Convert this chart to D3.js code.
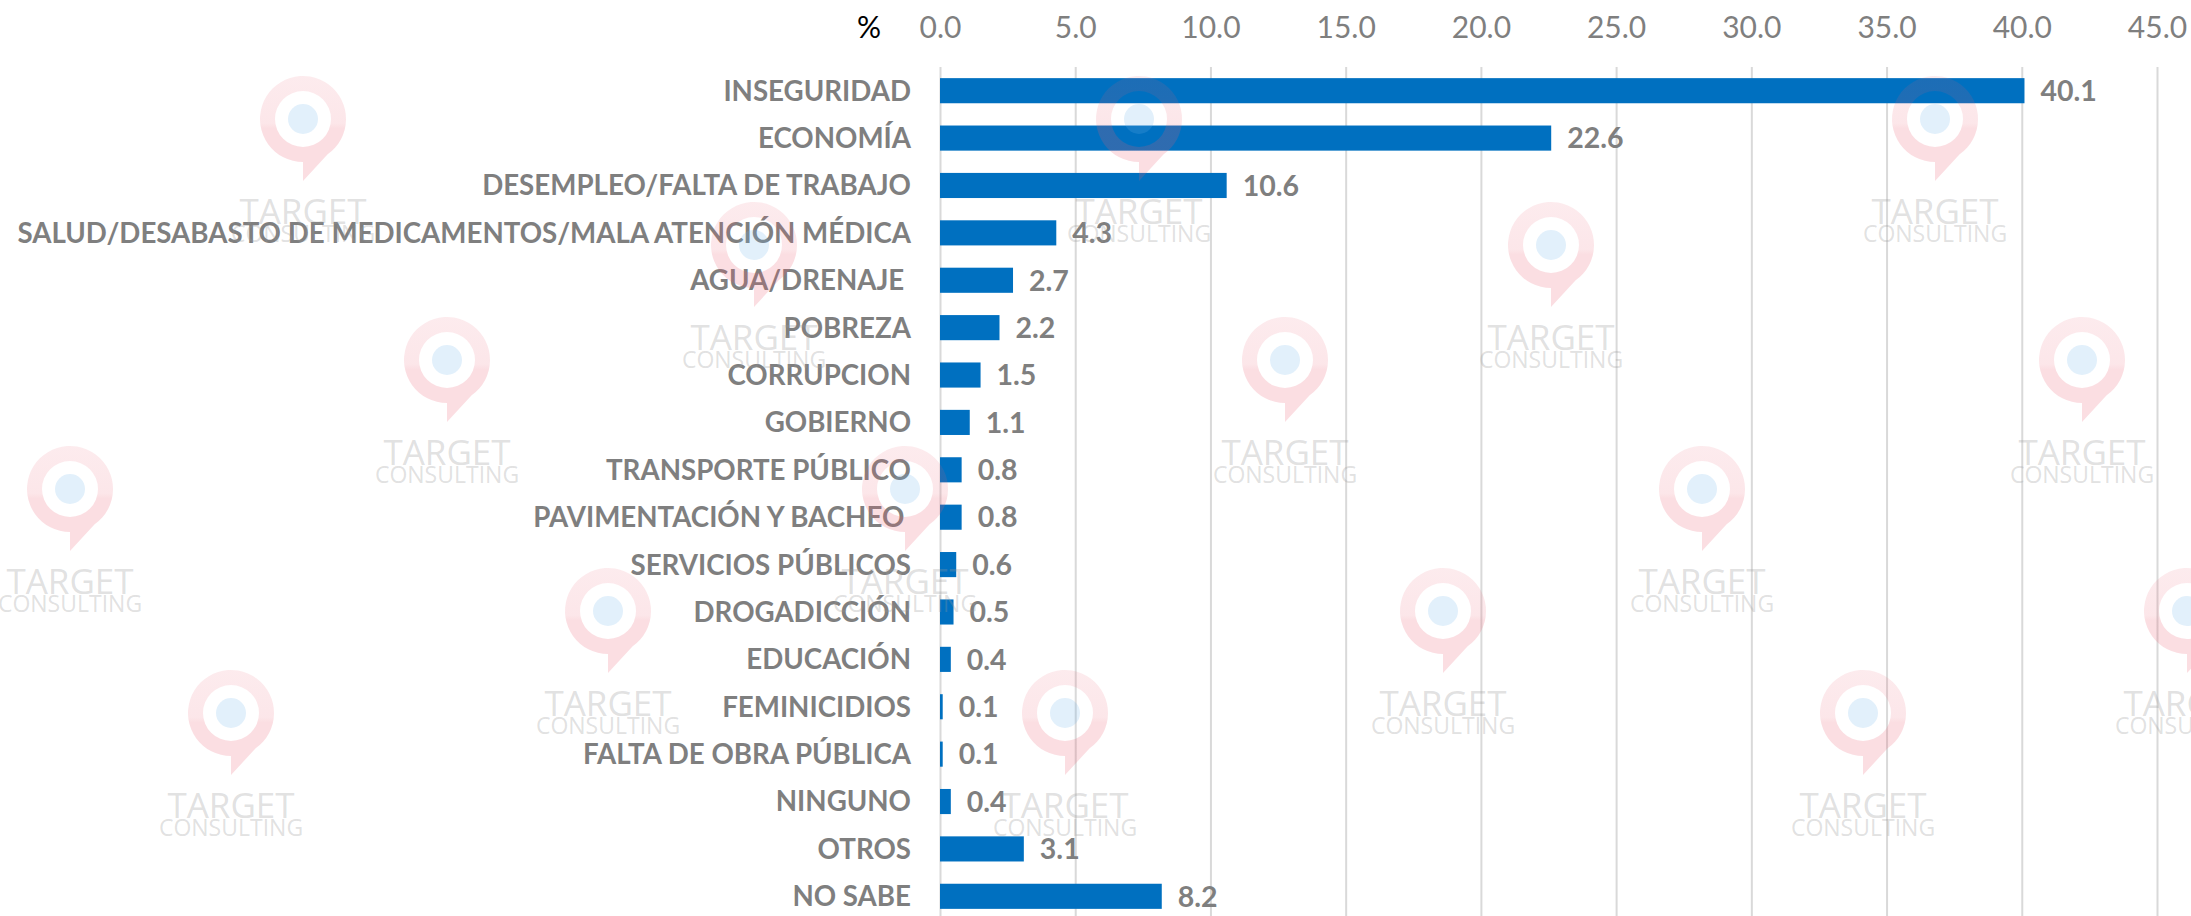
<!DOCTYPE html>
<html>
<head>
<meta charset="utf-8">
<script src="https://cdn.jsdelivr.net/npm/d3@7"></script>
<style>
  html, body { margin: 0; padding: 0; background: #fff; }
  svg { display: block; }
  .cat { white-space: pre; }
</style>
</head>
<body>
<div id="chart"></div>
<script>
// chart data
const categories = [
  "INSEGURIDAD",
  "ECONOMÍA",
  "DESEMPLEO/FALTA DE TRABAJO",
  "SALUD/DESABASTO DE MEDICAMENTOS/MALA ATENCIÓN MÉDICA",
  "AGUA/DRENAJE ",
  "POBREZA",
  "CORRUPCION",
  "GOBIERNO",
  "TRANSPORTE PÚBLICO",
  "PAVIMENTACIÓN Y BACHEO ",
  "SERVICIOS PÚBLICOS",
  "DROGADICCIÓN",
  "EDUCACIÓN",
  "FEMINICIDIOS",
  "FALTA DE OBRA PÚBLICA",
  "NINGUNO",
  "OTROS",
  "NO SABE"
];
const values = [40.1, 22.6, 10.6, 4.3, 2.7, 2.2, 1.5, 1.1, 0.8, 0.8, 0.6, 0.5, 0.4, 0.1, 0.1, 0.4, 3.1, 8.2];
const tickValues = [0, 5, 10, 15, 20, 25, 30, 35, 40, 45];
const unitLabel = "%";

// watermark logo centres (decoration only)
const wmX = [303, 1139, 1935, 754, 1551, 447, 1285, 2082, 70, 905, 1702, 608, 1443, 2187, 231, 1065, 1863];
const wmY = [119, 119, 119, 245, 245, 360, 360, 360, 489, 489, 489, 611, 611, 611, 713, 713, 713];

const width = 2191, height = 916;
const margins = { top: 67, left: 940, right: 34, bottom: 0 };

const svg = d3.select("#chart")
  .append("svg")
  .attr("width", width)
  .attr("height", height)
  .attr("viewBox", [0, 0, width, height]);

const x = d3.scaleLinear()
  .domain([0, 45])
  .range([margins.left, width - margins.right]);

const y = d3.scaleBand()
  .domain(categories)
  .range([margins.top, 920])
  .paddingInner(0.47)
  .paddingOuter(0.235);

// top axis + vertical gridlines
const axis = svg.append("g")
  .attr("class", "x axis")
  .attr("transform", `translate(0,${margins.top})`)
  .call(d3.axisTop(x)
    .tickValues(tickValues)
    .tickFormat(d3.format(".1f"))
    .tickSizeInner(-(height - margins.top))
    .tickSizeOuter(0)
    .tickPadding(29));

axis.select(".domain").remove();
axis.selectAll(".tick line")
  .attr("stroke", "#d9d9d9")
  .attr("stroke-width", 2);
axis.selectAll(".tick text")
  .attr("fill", "#7f7f7f")
  .style("font-family", "Lato, 'Open Sans', sans-serif")
  .style("font-size", "30px");

svg.append("text")
  .attr("x", 869)
  .attr("y", 38)
  .attr("text-anchor", "middle")
  .style("font-family", "Lato, 'Open Sans', sans-serif")
  .style("font-size", "30px")
  .attr("fill", "#000")
  .text(unitLabel);

const data = categories.map((c, i) => ({ cat: c, value: values[i] }));

// bars
svg.append("g")
  .selectAll("rect")
  .data(data)
  .enter()
  .append("rect")
  .attr("x", x(0))
  .attr("y", d => y(d.cat))
  .attr("width", d => x(d.value) - x(0))
  .attr("height", y.bandwidth())
  .attr("fill", "#0070c0");

// category labels
svg.append("g")
  .selectAll("text")
  .data(data)
  .enter()
  .append("text")
  .attr("class", "cat")
  .attr("x", 911)
  .attr("y", d => y(d.cat) + y.bandwidth() / 2)
  .attr("dy", "0.36em")
  .attr("text-anchor", "end")
  .style("font-family", "Lato, 'Open Sans', sans-serif")
  .style("font-weight", "bold")
  .style("font-size", "27.7px")
  .attr("fill", "#7f7f7f")
  .text(d => d.cat);

// value labels
svg.append("g")
  .selectAll("text")
  .data(data)
  .enter()
  .append("text")
  .attr("x", d => x(d.value) + 16)
  .attr("y", d => y(d.cat) + y.bandwidth() / 2)
  .attr("dy", "0.36em")
  .style("font-family", "Lato, 'Open Sans', sans-serif")
  .style("font-weight", "bold")
  .style("font-size", "28.5px")
  .attr("fill", "#7f7f7f")
  .text(d => d3.format(".1f")(d.value));

// watermark overlay
const defs = svg.append("defs");
const grad = defs.append("linearGradient")
  .attr("id", "pinGrad")
  .attr("x1", 0).attr("y1", 0).attr("x2", 0).attr("y2", 1);
grad.append("stop").attr("offset", "0%").attr("stop-color", "#eb5a6e").attr("stop-opacity", 0.12);
grad.append("stop").attr("offset", "45%").attr("stop-color", "#eb5a6e").attr("stop-opacity", 0.15);
grad.append("stop").attr("offset", "50%").attr("stop-color", "#eb5a6e").attr("stop-opacity", 0.2);
grad.append("stop").attr("offset", "100%").attr("stop-color", "#eb5a6e").attr("stop-opacity", 0.2);

const R = 43, r = 28;
const a = 55 * Math.PI / 180;
const pinPath = `M0,62 L0,${R} A${R},${R} 0 1 1 ${R * Math.cos(a)},${R * Math.sin(a)} Z ` +
  `M${r},0 A${r},${r} 0 1 0 ${-r},0 A${r},${r} 0 1 0 ${r},0 Z`;

const wm = svg.append("g")
  .attr("class", "watermark")
  .style("pointer-events", "none")
  .selectAll("g")
  .data(wmX.map((d, i) => [d, wmY[i]]))
  .enter()
  .append("g")
  .attr("transform", d => `translate(${d[0]},${d[1]})`);

wm.append("path")
  .attr("d", pinPath)
  .attr("fill-rule", "evenodd")
  .attr("fill", "url(#pinGrad)");

wm.append("circle")
  .attr("r", 15)
  .attr("fill", "#6eb4eb")
  .attr("fill-opacity", 0.2);

wm.append("text")
  .attr("y", 105)
  .attr("text-anchor", "middle")
  .style("font-family", "'Open Sans', sans-serif")
  .style("font-size", "35px")
  .attr("fill", "#999")
  .attr("fill-opacity", 0.3)
  .text("TARGET");

wm.append("text")
  .attr("y", 123)
  .attr("text-anchor", "middle")
  .style("font-family", "'Open Sans', sans-serif")
  .style("font-size", "23px")
  .attr("fill", "#999")
  .attr("fill-opacity", 0.3)
  .text("CONSULTING");
</script>
</body>
</html>
